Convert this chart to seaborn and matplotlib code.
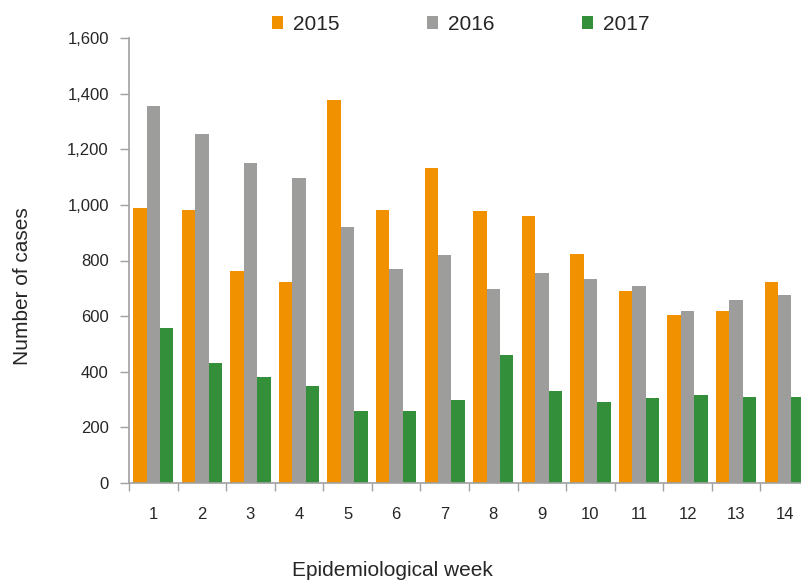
import numpy as np
import pandas as pd
import matplotlib
matplotlib.use("Agg")
import matplotlib.pyplot as plt
import seaborn as sns

weeks = [str(w) for w in range(1, 15)]
years = ["2015", "2016", "2017"]
cases_2015 = [988, 981, 762, 721, 1377, 981, 1132, 977, 959, 822, 690, 603, 618, 721]
cases_2016 = [1355, 1255, 1150, 1097, 920, 769, 819, 697, 755, 733, 708, 618, 657, 675]
cases_2017 = [557, 431, 380, 347, 258, 258, 297, 459, 330, 290, 304, 315, 311, 308]
colors = ["#f29100", "#9d9d9c", "#348f3a"]

df = pd.DataFrame({
    "week": weeks * 3,
    "year": [y for y in years for _ in weeks],
    "cases": cases_2015 + cases_2016 + cases_2017,
})

sns.set_style("white")
plt.rcParams["font.family"] = ["Liberation Sans", "DejaVu Sans"]

fig = plt.figure(figsize=(8.01, 5.82), dpi=100)
ax = fig.add_axes([129 / 801, 99 / 582, 680 / 801, 445 / 582])

sns.barplot(data=df, x="week", y="cases", hue="year", order=weeks, hue_order=years,
            palette=colors, width=0.83, saturation=1, linewidth=0, ax=ax)

ax.set_ylim(0, 1600)
ax.set_xlim(-0.5, 13.5)
ax.set_yticks(np.arange(0, 1601, 200))
ax.set_yticklabels([f"{v:,}" for v in range(0, 1601, 200)], fontsize=12)
ax.tick_params(axis="y", length=6.5, width=1, color="#a0a0a0", pad=8, direction="out", left=True)

ax.set_xticks(range(14))
ax.set_xticklabels(weeks, fontsize=12)
ax.set_xticks(np.arange(-0.5, 14, 1), minor=True)
ax.tick_params(axis="x", which="major", length=0, pad=17)
ax.tick_params(axis="x", which="minor", length=5.5, width=1, color="#a0a0a0", direction="out", bottom=True)

for side in ["top", "right"]:
    ax.spines[side].set_visible(False)
for side in ["left", "bottom"]:
    ax.spines[side].set_color("#a0a0a0")
    ax.spines[side].set_linewidth(1.2)

ax.set_xlabel("Epidemiological week", fontsize=15)
ax.set_ylabel("Number of cases", fontsize=15)
ax.xaxis.set_label_coords(0.388, -0.175)
ax.yaxis.set_label_coords(-0.143, 0.443)

ax.legend(loc="center", bbox_to_anchor=(0.575, 0.958), bbox_transform=fig.transFigure,
          ncol=3, frameon=False, fontsize=15, handlelength=0.53, handleheight=0.53,
          handletextpad=0.48, columnspacing=4.2)

fig.savefig("out.png", dpi=100)
